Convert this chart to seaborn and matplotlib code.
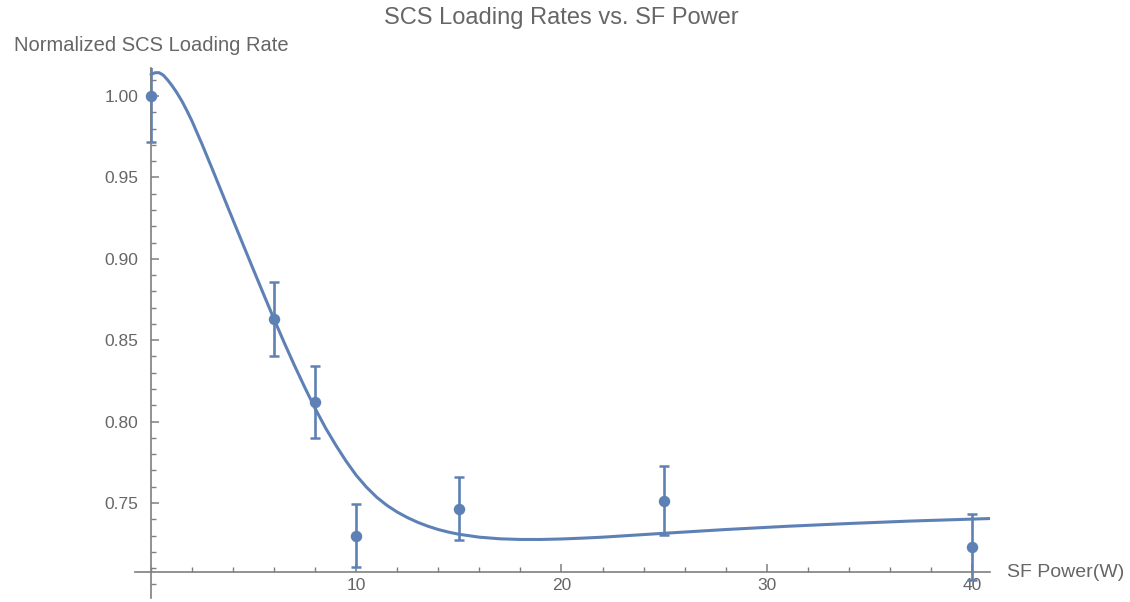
import matplotlib
matplotlib.use("Agg")
import matplotlib.pyplot as plt
from matplotlib.ticker import MultipleLocator, FixedLocator, FormatStrFormatter
import matplotlib.transforms as mtransforms
import seaborn as sns

# Measured loading rates (normalized) with their uncertainties
power_w = [0, 6, 8, 10, 15, 25, 40]
rate = [1.000, 0.863, 0.812, 0.730, 0.7465, 0.7515, 0.7228]
rate_err = [0.028, 0.0225, 0.022, 0.0195, 0.0195, 0.021, 0.0203]

# Fitted trend curve
fit_x = [0.0, 0.2, 0.4, 0.6, 0.8, 1.0, 1.25, 1.5, 1.75, 2.0, 2.5, 3.0, 3.5,
         4.0, 4.5, 5.0, 5.5, 6.0, 6.5, 7.0, 7.5, 8.0, 8.5, 9.0, 9.5, 10.0,
         10.5, 11.0, 11.5, 12.0, 12.5, 13.0, 13.5, 14.0, 14.5, 15.0, 16.0,
         17.0, 18.0, 19.0, 20.0, 21.0, 22.0, 25.0, 28.0, 31.0, 34.0, 37.0,
         41.0]
fit_y = [1.0133, 1.0143, 1.0143, 1.0128, 1.0100, 1.0068, 1.0022, 0.9970,
         0.9910, 0.9845, 0.9700, 0.9547, 0.9392, 0.9237, 0.9083, 0.8930,
         0.8778, 0.8628, 0.8482, 0.8342, 0.8208, 0.8080, 0.7962, 0.7856,
         0.7758, 0.7670, 0.7597, 0.7535, 0.7485, 0.7444, 0.7410, 0.7381,
         0.7357, 0.7337, 0.7321, 0.7308, 0.7290, 0.7280, 0.7276, 0.7276,
         0.7279, 0.7284, 0.7290, 0.7314, 0.7337, 0.7357, 0.7374, 0.7389,
         0.7405]

y_major = [0.75, 0.80, 0.85, 0.90, 0.95, 1.00]
x_major = [10, 20, 30, 40]

sns.set_style("white")
plt.rcParams["font.family"] = ["Liberation Sans", "DejaVu Sans"]

BLUE = "#5E81B5"
AXIS = "#7f7f7f"
TEXT = "#666666"

fig = plt.figure(figsize=(11.30, 6.02), dpi=100)
ax = fig.add_axes([0.1191, 0.0068, 0.7574, 0.8797])

sns.lineplot(x=fit_x, y=fit_y, ax=ax, color=BLUE, linewidth=2.2,
             sort=False, estimator=None)
ax.errorbar(power_w, rate, yerr=rate_err, fmt="none", ecolor=BLUE,
            elinewidth=1.9, capsize=3.4, capthick=1.8)
sns.scatterplot(x=power_w, y=rate, ax=ax, color=BLUE, s=68,
                edgecolor=BLUE, linewidth=0, zorder=5)

ax.set_xlim(-0.8, 40.9)
ax.set_ylim(0.6917, 1.017)

# Axes cross inside the data region
ax.spines["top"].set_visible(False)
ax.spines["right"].set_visible(False)
ax.spines["left"].set_position(("data", 0))
ax.spines["bottom"].set_position(("data", 0.7076))
for s in ("left", "bottom"):
    ax.spines[s].set_color(AXIS)
    ax.spines[s].set_linewidth(1.2)

ax.xaxis.set_major_locator(FixedLocator(x_major))
ax.xaxis.set_minor_locator(MultipleLocator(2))
ax.yaxis.set_major_locator(FixedLocator(y_major))
ax.yaxis.set_minor_locator(MultipleLocator(0.01))
ax.yaxis.set_major_formatter(FormatStrFormatter("%.2f"))

ax.tick_params(axis="both", which="both", direction="in", color=AXIS,
               labelcolor=TEXT, labelsize=12.5, bottom=True, left=True,
               top=False, right=False)
ax.tick_params(axis="both", which="major", length=6, width=1.1)
ax.tick_params(axis="both", which="minor", length=3.8, width=1.0)
ax.tick_params(axis="x", which="major", pad=4)
ax.tick_params(axis="y", which="major", pad=9)
ax.grid(False)

fig.text(0.497, 0.970, "SCS Loading Rates vs. SF Power", fontsize=17,
         color=TEXT, ha="center", va="center")

trans_y = mtransforms.blended_transform_factory(ax.transData, fig.transFigure)
ax.text(0, 0.925, "Normalized SCS Loading Rate", transform=trans_y,
        ha="center", va="center", fontsize=14.5, color=TEXT)
trans_x = mtransforms.blended_transform_factory(fig.transFigure, ax.transData)
ax.text(0.891, 0.7076, "SF Power(W)", transform=trans_x, ha="left",
        va="center", fontsize=14, color=TEXT)

fig.savefig("out.png", dpi=100)
